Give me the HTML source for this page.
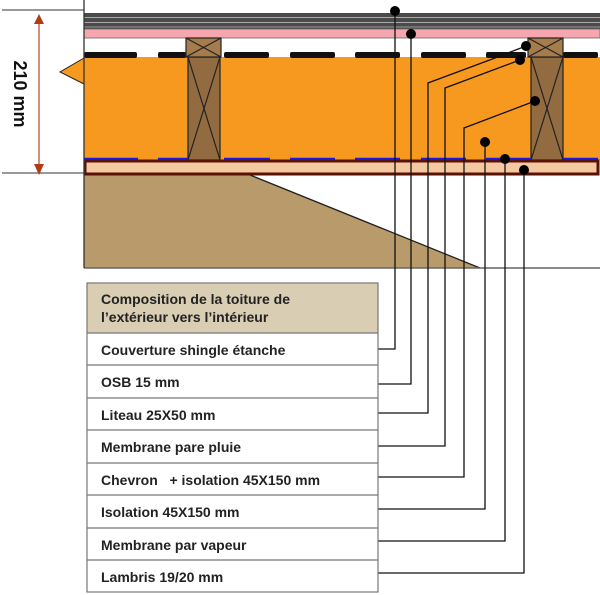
<!DOCTYPE html>
<html><head><meta charset="utf-8"><style>
html,body{margin:0;padding:0;background:#fff;width:600px;height:595px;overflow:hidden}
svg{display:block}
text{font-family:"Liberation Sans",sans-serif}
</style></head><body>
<svg width="600" height="595" viewBox="0 0 600 595" xmlns="http://www.w3.org/2000/svg">
<polygon points="84,175 250,175 480,268 84,268" fill="#B99A6B"/>
<line x1="250" y1="175" x2="480" y2="268" stroke="#222" stroke-width="1.3"/>
<line x1="84" y1="268" x2="600" y2="268" stroke="#666" stroke-width="1.5"/>
<rect x="84" y="13" width="516" height="16" fill="#4a4a4a"/>
<line x1="84" y1="17.5" x2="600" y2="17.5" stroke="#aaa" stroke-width="1"/>
<line x1="84" y1="22.5" x2="600" y2="22.5" stroke="#aaa" stroke-width="1"/>
<line x1="84" y1="27" x2="600" y2="27" stroke="#999" stroke-width="1"/>
<rect x="84" y="29" width="516" height="9" fill="#F5A6AE" stroke="#666" stroke-width="0.8"/>
<polygon points="84,57 600,57 600,160 84,160 84,84 60,72 84,58" fill="#F7991F"/>
<polyline points="84,58 60,72 84,84" fill="none" stroke="#222" stroke-width="1"/>
<g fill="#111">
<rect x="84" y="52" width="53" height="6" rx="2"/><rect x="158" y="52" width="28" height="6" rx="2"/>
<rect x="224" y="52" width="45" height="6" rx="2"/><rect x="290" y="52" width="45" height="6" rx="2"/>
<rect x="355" y="52" width="45" height="6" rx="2"/><rect x="421" y="52" width="45" height="6" rx="2"/>
<rect x="486" y="52" width="40" height="6" rx="2"/><rect x="563" y="52" width="35" height="6" rx="2"/>
</g>
<g stroke="#222" stroke-width="1.2" fill="#936B40">
<rect x="188" y="57" width="32" height="103"/><line x1="188" y1="57" x2="220" y2="160"/><line x1="220" y1="57" x2="188" y2="160"/>
<rect x="531" y="57" width="32" height="103"/><line x1="531" y1="57" x2="563" y2="160"/><line x1="563" y1="57" x2="531" y2="160"/>
</g>
<g stroke="#222" stroke-width="1.2" fill="#A57C4B">
<rect x="186" y="38" width="35" height="19"/><line x1="186" y1="38" x2="221" y2="57"/><line x1="221" y1="38" x2="186" y2="57"/>
<rect x="528" y="38" width="35" height="19"/><line x1="528" y1="38" x2="563" y2="57"/><line x1="563" y1="38" x2="528" y2="57"/>
</g>
<g stroke="#1A1AE6" stroke-width="2.5">
<line x1="84" y1="159" x2="138" y2="159"/><line x1="158" y1="159" x2="188" y2="159"/>
<line x1="224" y1="159" x2="270" y2="159"/><line x1="290" y1="159" x2="335" y2="159"/>
<line x1="355" y1="159" x2="400" y2="159"/><line x1="421" y1="159" x2="466" y2="159"/>
<line x1="486" y1="159" x2="531" y2="159"/><line x1="563" y1="159" x2="598" y2="159"/>
</g>
<rect x="85" y="161" width="513" height="13" fill="#F4C9A1" stroke="#5A1208" stroke-width="3"/>
<line x1="84" y1="0" x2="84" y2="268" stroke="#333" stroke-width="1.3"/>
<line x1="2" y1="10" x2="84" y2="10" stroke="#333" stroke-width="1"/>
<line x1="2" y1="173" x2="84" y2="173" stroke="#333" stroke-width="1"/>
<line x1="39" y1="20" x2="39" y2="165" stroke="#C0502E" stroke-width="1.3"/>
<polygon points="34,24 44,24 39,14" fill="#B23A14"/>
<polygon points="34,164 44,164 39,175" fill="#B23A14"/>
<text x="0" y="0" transform="translate(14,94) rotate(90)" text-anchor="middle" font-size="18" font-weight="bold" fill="#111">210 mm</text>
<g stroke="#111" stroke-width="1.3" fill="none">
<polyline points="395,11 395,349 378,349"/>
<polyline points="411,34 411,384 378,384"/>
<polyline points="526,46 495,58 428,83 428,413 378,413"/>
<polyline points="520,60 445,88 445,446 378,446"/>
<polyline points="535,101 464,128 464,477 378,477"/>
<polyline points="485,142 485,509 378,509"/>
<polyline points="505,159 505,541 378,541"/>
<polyline points="524,170 524,573 378,573"/>
</g>
<g fill="#000">
<circle cx="395" cy="11" r="5"/><circle cx="411" cy="34" r="5"/><circle cx="526" cy="46" r="5"/>
<circle cx="520" cy="60" r="5"/><circle cx="535" cy="101" r="5"/><circle cx="485" cy="142" r="5"/>
<circle cx="505" cy="159" r="5"/><circle cx="524" cy="170" r="5"/>
</g>
<rect x="87" y="283" width="291" height="50" fill="#D9CDB3"/>
<g stroke="#777" stroke-width="1.2" fill="none">
<rect x="87" y="283" width="291" height="309"/>
<line x1="87" y1="333" x2="378" y2="333"/><line x1="87" y1="365" x2="378" y2="365"/>
<line x1="87" y1="398" x2="378" y2="398"/><line x1="87" y1="430" x2="378" y2="430"/>
<line x1="87" y1="463" x2="378" y2="463"/><line x1="87" y1="495" x2="378" y2="495"/>
<line x1="87" y1="528" x2="378" y2="528"/><line x1="87" y1="560" x2="378" y2="560"/>
</g>
<g font-size="14" font-weight="bold" fill="#222">
<text x="101" y="304">Composition de la toiture de</text>
<text x="101" y="322">l’extérieur vers l’intérieur</text>
<text x="101" y="355">Couverture shingle étanche</text>
<text x="101" y="387">OSB 15 mm</text>
<text x="101" y="420">Liteau 25X50 mm</text>
<text x="101" y="452">Membrane pare pluie</text>
<text x="101" y="485" xml:space="preserve">Chevron   + isolation 45X150 mm</text>
<text x="101" y="517">Isolation 45X150 mm</text>
<text x="101" y="550">Membrane par vapeur</text>
<text x="101" y="582">Lambris 19/20 mm</text>
</g>
</svg>
</body></html>
